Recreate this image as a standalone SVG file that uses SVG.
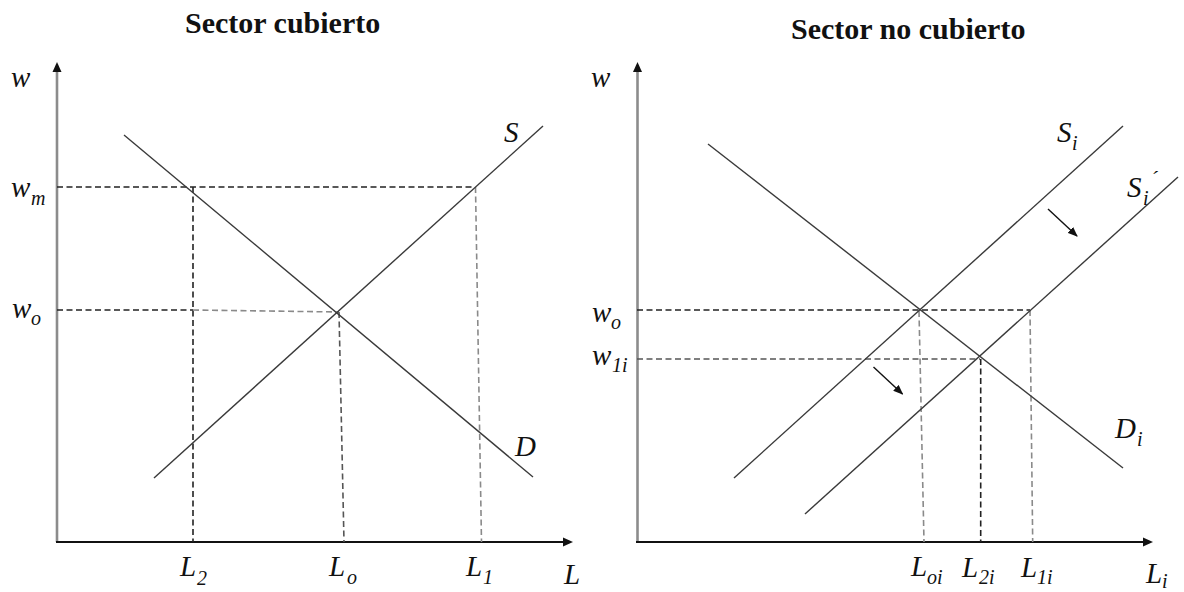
<svg xmlns="http://www.w3.org/2000/svg" width="1184" height="592" viewBox="0 0 1184 592">
<style>
.title{font-family:"Liberation Serif","Times New Roman",serif;font-weight:bold;font-size:30px;fill:#111}
.lab{font-family:"Liberation Serif","Times New Roman",serif;font-style:italic;font-size:29px;fill:#111}
.sub{font-size:20px}
.curve{stroke:#3a3a3a;stroke-width:1.4;fill:none}
.vaxis{stroke:#8c8c8c;stroke-width:2.6;fill:none}
.haxis{stroke:#111;stroke-width:2;fill:none}
.dk{stroke:#222;stroke-width:1.6;stroke-dasharray:6 3.5;fill:none}
.gr{stroke:#8a8a8a;stroke-width:1.6;stroke-dasharray:6 3.5;fill:none}
.md{stroke:#555;stroke-width:1.6;stroke-dasharray:6 3.5;fill:none}
.head{fill:#111}
.shift{stroke:#111;stroke-width:1.4;fill:none}
</style>
<defs>
<marker id="ah" markerWidth="10" markerHeight="8" refX="9" refY="4" orient="auto" markerUnits="userSpaceOnUse">
<path d="M0,0 L10,4 L0,8 Z" fill="#111"/>
</marker>
</defs>
<rect width="1184" height="592" fill="#fff"/>

<g id="left-panel">
<text class="title" x="185" y="33">Sector cubierto</text>
<g id="left-axes">
<line class="vaxis" x1="57" y1="542" x2="57" y2="70"/>
<path class="head" d="M57,62 L52.5,72 L61.5,72 Z"/>
<line class="haxis" x1="56" y1="542" x2="564" y2="542"/>
<path class="head" d="M573,542 L563,537.5 L563,546.5 Z"/>
</g>
<g id="left-guides">
<line class="dk" x1="57" y1="187" x2="475" y2="187"/>
<line class="dk" x1="193" y1="187" x2="193" y2="542"/>
<line class="gr" x1="475.5" y1="187" x2="481.5" y2="542"/>
<line class="dk" x1="57" y1="310" x2="193" y2="310"/>
<line class="gr" x1="193" y1="310" x2="339" y2="312"/>
<line class="md" x1="339" y1="312" x2="344" y2="542"/>
</g>
<g id="left-curves">
<line id="D" class="curve" x1="124" y1="135" x2="533" y2="477"/>
<line id="S" class="curve" x1="154" y1="478" x2="543" y2="126"/>
</g>
<g id="left-labels">
<text class="lab" x="11" y="87">w</text>
<text class="lab" x="11" y="197">w<tspan class="sub" x="31" y="205">m</tspan></text>
<text class="lab" x="12" y="318">w<tspan class="sub" x="31" y="325">o</tspan></text>
<text class="lab" x="504" y="142">S</text>
<text class="lab" x="515" y="456">D</text>
<text class="lab" x="180" y="576">L<tspan class="sub" x="197" y="585">2</tspan></text>
<text class="lab" x="329" y="576">L<tspan class="sub" x="347" y="584">o</tspan></text>
<text class="lab" x="466" y="576">L<tspan class="sub" x="483" y="584">1</tspan></text>
<text class="lab" x="564" y="584">L</text>
</g>
</g>

<g id="right-panel">
<text class="title" x="791" y="39">Sector no cubierto</text>
<g id="right-axes">
<line class="vaxis" x1="637.5" y1="542" x2="637.5" y2="70"/>
<path class="head" d="M637.5,62 L633,72 L642,72 Z"/>
<line class="haxis" x1="636" y1="542" x2="1144" y2="542"/>
<path class="head" d="M1153,542 L1143,537.5 L1143,546.5 Z"/>
</g>
<g id="right-guides">
<line class="dk" x1="637" y1="310" x2="1030" y2="310"/>
<line class="md" x1="637" y1="359" x2="980" y2="359"/>
<line class="gr" x1="919" y1="311" x2="924" y2="542"/>
<line class="dk" x1="980.7" y1="359" x2="980.7" y2="542"/>
<line class="gr" x1="1030" y1="310" x2="1032.7" y2="542"/>
</g>
<g id="right-curves">
<line id="Di" class="curve" x1="708" y1="144" x2="1123" y2="468"/>
<line id="Si" class="curve" x1="734" y1="478" x2="1123" y2="126"/>
<line id="Si2" class="curve" x1="805" y1="514" x2="1178" y2="177"/>
</g>
<g id="shift-arrows">
<line class="shift" x1="1048" y1="209" x2="1077" y2="236" marker-end="url(#ah)"/>
<line class="shift" x1="873.5" y1="367" x2="902.5" y2="394" marker-end="url(#ah)"/>
</g>
<g id="right-labels">
<text class="lab" x="591" y="87">w</text>
<text class="lab" x="592" y="322">w<tspan class="sub" x="611" y="329">o</tspan></text>
<text class="lab" x="592" y="365">w<tspan class="sub" x="612" y="372">1i</tspan></text>
<text class="lab" x="1057" y="142">S<tspan class="sub" x="1072" y="150">i</tspan></text>
<text class="lab" x="1127" y="197">S<tspan class="sub" x="1143" y="205">i</tspan><tspan class="sub" x="1151" y="186">´</tspan></text>
<text class="lab" x="1115" y="438">D<tspan class="sub" x="1137" y="446">i</tspan></text>
<text class="lab" x="911" y="576">L<tspan class="sub" x="927" y="584">oi</tspan></text>
<text class="lab" x="962" y="577">L<tspan class="sub" x="979" y="584">2i</tspan></text>
<text class="lab" x="1021" y="577">L<tspan class="sub" x="1037" y="584">1i</tspan></text>
<text class="lab" x="1146" y="583">L<tspan class="sub" x="1162" y="588">i</tspan></text>
</g>
</g>
</svg>
